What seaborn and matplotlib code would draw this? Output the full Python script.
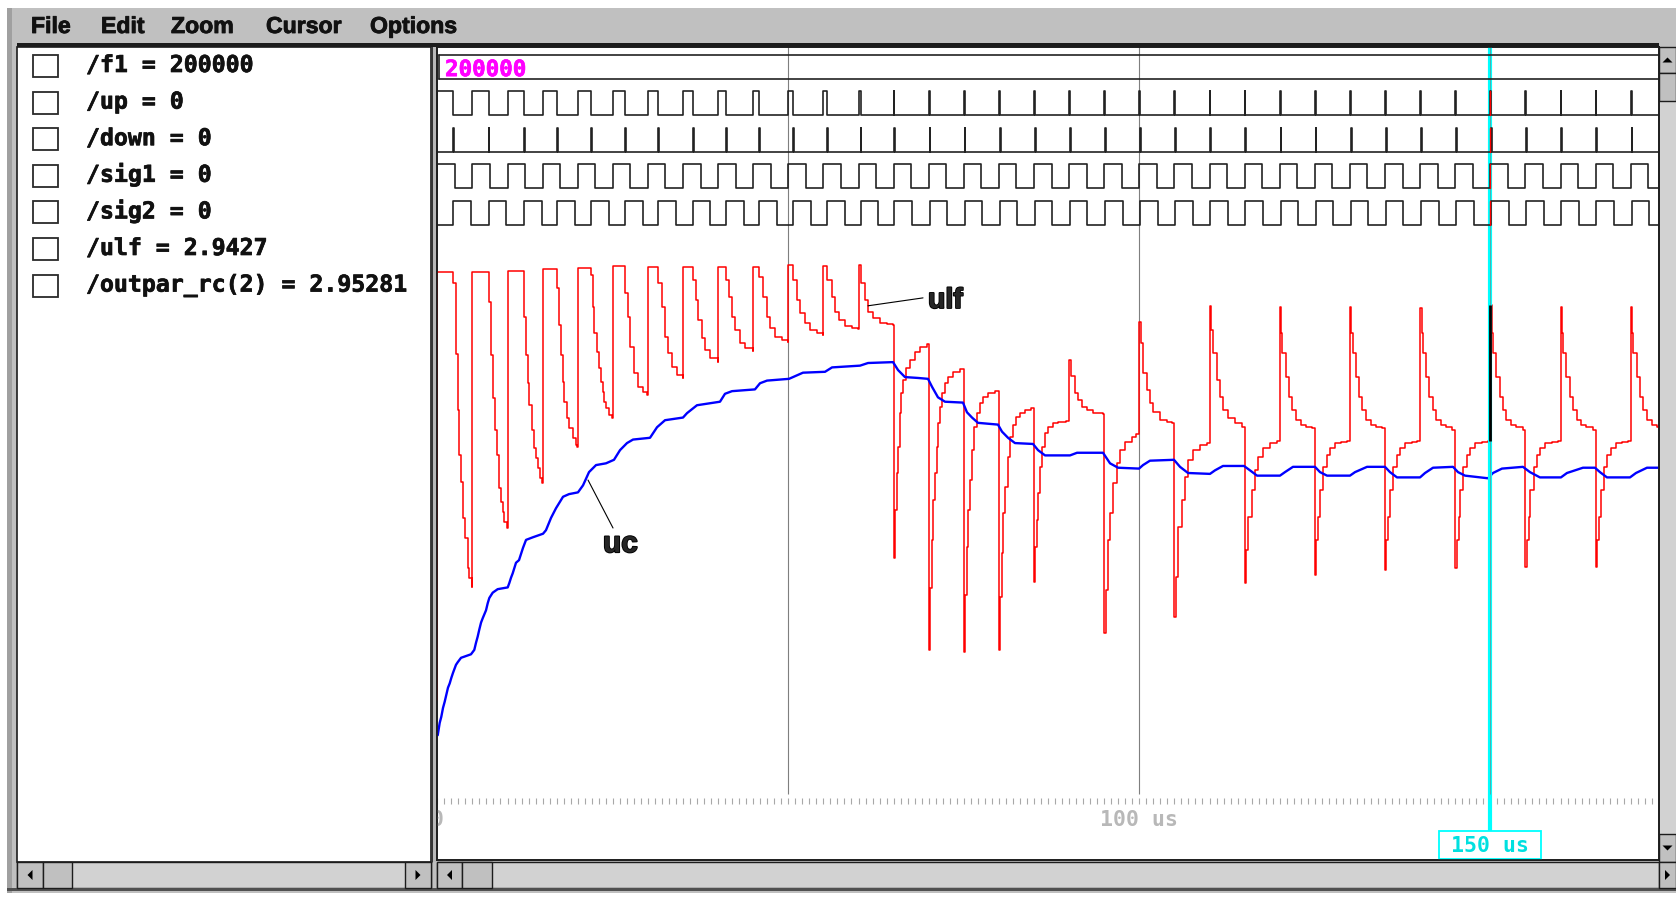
import numpy as np
import matplotlib
matplotlib.use("Agg")
import matplotlib.pyplot as plt
import matplotlib.patheffects as pe
import seaborn as sns
from matplotlib.patches import Rectangle, Polygon

# ---- texts ----
menu_items = ['File', 'Edit', 'Zoom', 'Cursor', 'Options']
menu_x = [31, 101, 171, 266, 370]
signal_names = ['/f1', '/up', '/down', '/sig1', '/sig2', '/ulf', '/outpar_rc(2)']
signal_values = ['200000', '0', '0', '0', '0', '2.9427', '2.95281']
f1_value = '200000'

# ---- time base (us) ----
period_us = 5.0
n_cycles = 35
t_end = 174.03
half_period_us = 2.5
spike_us = 0.12
# width of the /up pulse in each cycle (also the lag of /sig2 behind /sig1)
up_width_us = [2.28, 2.30, 2.36, 2.10, 1.90, 1.80, 1.50, 1.38, 1.13, 0.86, 0.71, 0.56, 0.30,
               0.12, 0.12, 0.12, 0.12, 0.12, 0.12, 0.12, 0.12, 0.12, 0.12, 0.12, 0.12,
               0.12, 0.12, 0.12, 0.12, 0.12, 0.12, 0.12, 0.12, 0.12, 0.12]
grid_us = [50, 100, 150]
cursor_us = 150.0
ruler_label_us = [0, 100]
ruler_label_txt = ['0', '100 us']

# ---- /ulf (red), one cycle per line ----
ulf_pull_t = [0.0, 0.0, 2.28, 2.66, 2.91, 3.13, 3.38, 3.62, 3.99, 4.33, 4.56, 4.94,
              5.0, 7.30, 7.65, 7.98, 8.26, 8.50, 8.75, 9.07, 9.32, 9.54, 9.93,
              10.0, 12.36, 12.64, 12.88, 13.11, 13.49, 13.82, 14.06, 14.30, 14.63, 14.91,
              15.0, 17.10, 17.29, 17.62, 17.86, 18.09, 18.43, 18.80, 19.29, 19.76, 19.93,
              20.0, 21.90, 22.14, 22.36, 22.71, 23.08, 23.32, 23.56, 23.79, 24.03, 24.50, 24.93,
              25.0, 26.80, 27.10, 27.50, 28.00, 28.60, 29.30, 29.93,
              30.0, 31.50, 31.97, 32.44, 32.91, 33.39, 34.10, 34.93,
              35.0, 36.38, 36.85, 37.18, 37.66, 38.13, 38.85, 39.93,
              40.0, 41.13, 41.60, 41.94, 42.41, 43.12, 43.83, 44.93,
              45.0, 45.86, 46.44, 46.92, 47.39, 48.11, 49.06, 49.93,
              50.0, 50.71, 51.28, 51.67, 52.38, 53.09, 54.05, 54.93,
              55.0, 55.56, 56.18, 56.65, 57.26, 58.08, 59.03, 59.93,
              60.0, 60.30, 60.93, 61.40, 62.11, 63.06, 64.02, 64.93]
ulf_pull_v = [0.42, 5.28, 5.16, 4.35, 3.72, 3.20, 2.90, 2.49, 2.26, 1.92, 1.81, 1.70,
              5.28, 4.94, 4.34, 3.85, 3.49, 3.20, 2.83, 2.67, 2.56, 2.44, 2.38,
              5.30, 4.77, 4.34, 4.02, 3.77, 3.49, 3.28, 3.17, 3.06, 2.94, 2.89,
              5.32, 5.10, 4.68, 4.34, 4.03, 3.81, 3.63, 3.51, 3.40, 3.32, 3.30,
              5.33, 5.25, 4.89, 4.59, 4.38, 4.19, 4.03, 3.92, 3.81, 3.74, 3.66, 3.63,
              5.35, 5.05, 4.77, 4.43, 4.14, 3.98, 3.92, 3.89,
              5.34, 5.16, 4.89, 4.55, 4.36, 4.20, 4.11, 4.08,
              5.34, 5.19, 4.97, 4.74, 4.53, 4.40, 4.31, 4.26,
              5.34, 5.19, 5.00, 4.77, 4.63, 4.48, 4.42, 4.39,
              5.34, 5.23, 5.00, 4.77, 4.65, 4.55, 4.51, 4.49,
              5.36, 5.19, 4.97, 4.82, 4.70, 4.63, 4.59, 4.57,
              5.35, 5.19, 5.00, 4.83, 4.74, 4.67, 4.65, 4.64,
              5.36, 5.16, 4.97, 4.83, 4.76, 4.70, 4.69, 4.68]

ulf_lock_t = [65.0, 65.17, 65.44, 65.63, 65.87, 66.11, 66.35, 66.82, 67.29, 68.00, 68.71, 69.72,
              70.0, 70.20, 70.43, 70.66, 70.90, 71.14, 71.37, 71.61, 71.85, 72.32, 72.79, 73.50, 74.46,
              75.0, 75.20, 75.41, 75.64, 75.88, 76.21, 76.50, 76.84, 77.31, 77.78, 78.49, 79.44,
              80.0, 80.20, 80.40, 80.63, 80.87, 81.25, 81.58, 81.97, 82.44, 83.00, 83.72, 84.60,
              85.0, 85.20, 85.38, 85.61, 85.85, 86.18, 86.57, 87.04, 87.75, 88.46, 89.50,
              90.0, 90.25, 90.84, 91.31, 91.80, 92.51, 93.45, 94.79,
              95.0, 95.20, 95.57, 95.81, 96.28, 96.77, 97.24, 97.95, 98.90, 99.60,
              100.0, 100.20, 100.57, 101.05, 101.52, 101.99, 102.95, 103.90, 104.60,
              105.0, 105.20, 105.56, 106.04, 106.51, 106.98, 107.69, 108.65, 109.60,
              110.0, 110.20, 110.54, 111.03, 111.50, 111.97, 112.68, 113.63, 114.60,
              115.0, 115.20, 115.53, 116.01, 116.48, 116.95, 117.66, 118.62, 119.60,
              120.0, 120.20, 120.37, 120.85, 121.32, 121.79, 122.28, 122.99, 123.70, 124.60,
              125.0, 125.20, 125.47, 125.71, 126.18, 126.67, 127.14, 127.85, 128.80, 129.60,
              130.0, 130.20, 130.37, 130.85, 131.32, 131.79, 132.28, 132.99, 133.70, 134.60,
              135.0, 135.20, 135.47, 135.71, 136.18, 136.67, 137.14, 137.85, 138.80, 139.60,
              140.0, 140.20, 140.37, 140.85, 141.32, 141.79, 142.28, 142.99, 143.70, 144.60,
              145.0, 145.20, 145.47, 145.71, 146.18, 146.67, 147.14, 147.85, 148.80, 149.60,
              150.0, 150.20, 150.37, 150.85, 151.32, 151.79, 152.28, 152.99, 153.70, 154.60,
              155.0, 155.20, 155.47, 155.71, 156.18, 156.67, 157.14, 157.85, 158.80, 159.60,
              160.0, 160.20, 160.37, 160.85, 161.32, 161.79, 162.28, 162.99, 163.70, 164.60,
              165.0, 165.20, 165.47, 165.71, 166.18, 166.67, 167.14, 167.85, 168.80, 169.60,
              170.0, 170.20, 170.37, 170.85, 171.32, 171.79, 172.28, 172.99, 173.70, 174.03]
ulf_lock_v = [2.03, 2.58, 3.00, 3.30, 3.68, 3.91, 4.06, 4.19, 4.28, 4.38, 4.43, 4.47,
              0.99, 1.69, 2.24, 2.69, 3.00, 3.30, 3.57, 3.75, 3.91, 4.02, 4.09, 4.15, 4.18,
              0.97, 1.61, 2.16, 2.58, 2.92, 3.26, 3.52, 3.68, 3.80, 3.86, 3.91, 3.93,
              0.99, 1.59, 2.09, 2.55, 2.84, 3.18, 3.41, 3.55, 3.64, 3.68, 3.72, 3.74,
              1.76, 2.16, 2.47, 2.77, 3.07, 3.30, 3.45, 3.52, 3.57, 3.58, 3.59,
              4.28, 4.10, 3.91, 3.83, 3.75, 3.72, 3.68, 3.67,
              1.18, 1.67, 2.24, 2.55, 2.89, 3.11, 3.26, 3.35, 3.41, 3.44,
              4.72, 4.48, 4.14, 3.94, 3.80, 3.69, 3.60, 3.58, 3.57,
              1.36, 1.82, 2.39, 2.69, 2.95, 3.15, 3.26, 3.32, 3.34,
              4.90, 4.63, 4.36, 4.06, 3.86, 3.72, 3.63, 3.57, 3.52,
              1.75, 2.13, 2.50, 2.81, 3.03, 3.18, 3.28, 3.34, 3.36,
              4.89, 4.59, 4.36, 4.09, 3.86, 3.72, 3.60, 3.55, 3.52, 3.51,
              1.84, 2.24, 2.50, 2.81, 3.07, 3.20, 3.28, 3.34, 3.35, 3.36,
              4.89, 4.59, 4.36, 4.09, 3.86, 3.72, 3.60, 3.55, 3.52, 3.51,
              1.90, 2.24, 2.50, 2.81, 3.07, 3.20, 3.28, 3.34, 3.35, 3.36,
              4.88, 4.59, 4.36, 4.09, 3.86, 3.72, 3.60, 3.55, 3.52, 3.49,
              1.92, 2.24, 2.50, 2.81, 3.07, 3.20, 3.28, 3.34, 3.35, 3.36,
              4.91, 4.59, 4.36, 4.09, 3.86, 3.72, 3.60, 3.55, 3.52, 3.49,
              1.93, 2.24, 2.50, 2.81, 3.07, 3.20, 3.28, 3.34, 3.35, 3.36,
              4.89, 4.59, 4.36, 4.09, 3.86, 3.72, 3.60, 3.55, 3.52, 3.49,
              1.93, 2.24, 2.50, 2.81, 3.07, 3.20, 3.28, 3.34, 3.35, 3.36,
              4.89, 4.59, 4.36, 4.09, 3.86, 3.72, 3.60, 3.55, 3.52, 3.52]

# ---- /outpar_rc(2) = uc (blue) ----
uc_t = [0.06, 0.34, 0.57, 0.81, 1.05, 1.28, 1.52, 1.77, 1.99, 2.24, 2.48, 2.66, 2.91, 3.38, 4.09, 4.80,
        5.27, 5.51, 5.75, 5.98, 6.23, 6.47, 6.94, 7.18, 7.41, 7.89, 8.60, 9.32,
        10.03, 10.26, 10.50, 10.74, 10.97, 11.21, 11.64, 12.21, 12.64, 13.63,
        15.06, 15.48, 16.20, 16.91, 17.91, 18.76,
        20.04, 20.76, 21.61, 22.61, 24.03,
        25.17, 26.03, 27.02, 27.88,
        30.30, 31.30, 32.44,
        35.00, 35.57, 36.99,
        40.27, 40.98, 41.98,
        45.25, 45.97, 46.97,
        50.10, 51.24, 52.09,
        55.23, 56.23,
        60.22, 61.36, 64.92,
        65.63, 66.62, 68.48, 69.90,
        70.47, 71.32, 72.32, 74.88,
        75.45, 76.17, 77.02, 79.87,
        80.44, 81.30, 82.29, 84.86,
        85.57, 86.57, 90.13,
        91.13, 94.83,
        95.83, 96.97, 99.96,
        100.53, 101.52, 104.94,
        105.80, 106.94, 110.07,
        110.78, 111.92, 114.91,
        115.77, 116.77, 120.04,
        120.75, 121.89, 125.03,
        125.74, 126.74, 130.01,
        130.73, 132.44, 135.00,
        135.71, 136.71, 139.99,
        140.70, 141.84, 144.69,
        145.40, 146.40, 149.67,
        150.38, 151.66, 154.65,
        155.65, 157.07, 160.06,
        160.92, 163.20, 164.91,
        165.62, 166.62, 169.90,
        170.75, 172.32, 173.88]
uc_v = [0.02, 0.16, 0.23, 0.33, 0.40, 0.48, 0.56, 0.61, 0.67, 0.73, 0.78, 0.82, 0.85, 0.90, 0.92, 0.94,
        0.99, 1.07, 1.14, 1.22, 1.30, 1.35, 1.44, 1.52, 1.58, 1.64, 1.68, 1.69,
        1.70, 1.75, 1.81, 1.86, 1.92, 1.98, 2.01, 2.15, 2.24, 2.27,
        2.31, 2.35, 2.49, 2.60, 2.73, 2.76,
        2.78, 2.86, 3.01, 3.09, 3.11,
        3.15, 3.26, 3.34, 3.38,
        3.40, 3.52, 3.60,
        3.63, 3.68, 3.77,
        3.81, 3.90, 3.93,
        3.95, 4.02, 4.05,
        4.07, 4.11, 4.14,
        4.15, 4.20,
        4.22, 4.25, 4.26,
        4.17, 4.09, 4.08, 4.07,
        3.98, 3.86, 3.81, 3.80,
        3.69, 3.63, 3.57, 3.55,
        3.47, 3.40, 3.34, 3.33,
        3.26, 3.20, 3.20,
        3.23, 3.23,
        3.11, 3.06, 3.05,
        3.09, 3.14, 3.15,
        3.07, 3.00, 2.99,
        3.03, 3.08, 3.08,
        3.03, 2.97, 2.97,
        3.01, 3.07, 3.07,
        3.01, 2.97, 2.97,
        3.01, 3.07, 3.07,
        3.01, 2.95, 2.95,
        3.00, 3.06, 3.07,
        3.01, 2.97, 2.94,
        3.00, 3.05, 3.07,
        3.01, 2.95, 2.95,
        3.00, 3.06, 3.06,
        3.01, 2.95, 2.95,
        3.00, 3.06, 3.06]

ulf_t = ulf_pull_t + ulf_lock_t
ulf_v = ulf_pull_v + ulf_lock_v

# ---- styling ----
sns.set_style('white')
plt.rcParams['font.family'] = ['DejaVu Sans']
MONO = dict(family='DejaVu Sans Mono', weight='bold')
FACE = '#c0c0c0'
TRACK = '#d2d2d2'
DARK = '#1c1c1c'
W, H = 1676, 900


def heavy(w, c='#111111'):
    return [pe.withStroke(linewidth=w, foreground=c)]


fig = plt.figure(figsize=(W / 100, H / 100), dpi=100)
fig.patch.set_facecolor('white')

# window chrome in screen pixels
ui = fig.add_axes([0, 0, 1, 1])
ui.set_xlim(0, W)
ui.set_ylim(H, 0)
ui.axis('off')


def box(x0, y0, x1, y1, fc, ec='none', lw=0.0, z=1):
    ui.add_patch(Rectangle((x0, y0), x1 - x0, y1 - y0, facecolor=fc,
                           edgecolor=ec, linewidth=lw, zorder=z))


def arrow_button(x0, y0, x1, y1, d):
    box(x0, y0, x1, y1, FACE, ec=DARK, lw=1.0, z=3)
    cx, cy = (x0 + x1) / 2, (y0 + y1) / 2
    s = 5
    pts = {'up': [(cx - s, cy + s / 2), (cx + s, cy + s / 2), (cx, cy - s / 2)],
           'down': [(cx - s, cy - s / 2), (cx + s, cy - s / 2), (cx, cy + s / 2)],
           'left': [(cx + s / 2, cy - s), (cx + s / 2, cy + s), (cx - s / 2, cy)],
           'right': [(cx - s / 2, cy - s), (cx - s / 2, cy + s), (cx + s / 2, cy)]}[d]
    ui.add_patch(Polygon(pts, closed=True, facecolor='black', edgecolor='none', zorder=4))


box(7, 8, W, 893, FACE)
box(7, 8, 12, 893, '#a0a0a0')
for label, x in zip(menu_items, menu_x):
    ui.text(x, 33, label, fontsize=16.6, family='Liberation Sans', weight='bold',
            va='baseline', ha='left', color='#111111', zorder=3, path_effects=heavy(0.6))
box(17, 43, 1659, 47, DARK, z=2)

# left panel with the signal list
box(17, 47, 431, 862, 'white', ec=DARK, lw=1.2, z=1)
box(431, 47, 437, 862, '#b8b8b8', z=1)
ui.plot([431.5, 431.5], [45, 862], color=DARK, lw=1.2, zorder=2)
row_base0, row_pitch = 72.0, 36.6
for i, (name, val) in enumerate(zip(signal_names, signal_values)):
    yb = row_base0 + i * row_pitch
    ui.add_patch(Rectangle((33, yb - 17), 25, 22, fill=False, edgecolor='#2a2a2a',
                           linewidth=1.3, zorder=3))
    ui.text(86, yb, f'{name} = {val}', fontsize=16.7, va='baseline', ha='left',
            color='#111111', zorder=3, path_effects=heavy(0.5), **MONO)

# scrollbars
box(1659, 47, W, 862, TRACK, z=1)
arrow_button(1659, 47, W, 73, 'up')
box(1659, 73, W, 101, FACE, ec=DARK, lw=1.0, z=3)
arrow_button(1659, 834, W, 862, 'down')
box(17, 862, 431, 888, TRACK, ec=DARK, lw=1.0, z=1)
arrow_button(17, 862, 43, 888, 'left')
box(43, 862, 72, 888, FACE, ec=DARK, lw=1.0, z=3)
arrow_button(405, 862, 431, 888, 'right')
box(437, 862, 1659, 888, TRACK, ec=DARK, lw=1.0, z=1)
arrow_button(437, 862, 462, 888, 'left')
box(462, 862, 492, 888, FACE, ec=DARK, lw=1.0, z=3)
arrow_button(1659, 862, W, 888, 'right')
box(7, 888, W, 891, '#505050', z=2)

# ---- wave panel ----
L, R, T, B = 437, 1659, 47, 860
ax = fig.add_axes([L / W, 1 - B / H, (R - L) / W, (B - T) / H])
ax.set_facecolor('white')
axd = ax.twinx()
axd.patch.set_alpha(0)
for a in (ax, axd):
    a.set_xticks([])
    a.set_yticks([])
    for s in a.spines.values():
        s.set_color(DARK)
        s.set_linewidth(1.2)


def fy(py):
    return (B - py) / (B - T)


xt = ax.get_xaxis_transform()

# analog traces (volts)
ax.vlines(grid_us, fy(794), 1.0, transform=xt, color='#7f7f7f', lw=0.8, zorder=1)
sns.lineplot(x=ulf_t, y=ulf_v, ax=ax, color='#ff0000', lw=1.1, estimator=None,
             sort=False, errorbar=None, drawstyle='steps-post', zorder=3)
sns.lineplot(x=uc_t, y=uc_v, ax=ax, color='#0000ff', lw=1.7, estimator=None,
             sort=False, errorbar=None, zorder=4)

# ruler
ax.vlines(np.arange(0, 175), fy(804), fy(798), transform=xt, color='#a8a8a8', lw=0.8)
for t, txt in zip(ruler_label_us, ruler_label_txt):
    ax.text(t, fy(826), txt, transform=xt, ha='center', va='baseline', color='#b8b8b8',
            fontsize=15.5, clip_on=True, **MONO)

# cursor
ax.vlines(cursor_us, fy(831), 1.0, transform=xt, color='#00ffff', lw=3.0, zorder=6)
ax.vlines(cursor_us, fy(794), 1.0, transform=xt, color='#5f9f9f', lw=0.6, zorder=6)
k = ulf_t.index(cursor_us)
ax.vlines(cursor_us, ulf_v[k - 1], ulf_v[k], color='black', lw=2.0, zorder=7)
ax.add_patch(Rectangle((cursor_us - 7.26, fy(859)), 14.52, fy(831) - fy(859), transform=xt,
                       facecolor='white', edgecolor='#00ffff', lw=1.3, zorder=6))
ax.text(cursor_us, fy(852), f'{cursor_us:.0f} us', transform=xt, ha='center', va='baseline',
        color='#00e0e0', fontsize=15.5, zorder=7, **MONO)

# annotations
ax.plot([61.35, 69.19], [4.90, 4.99], color='black', lw=0.8, zorder=5)
ax.text(69.9, 4.875, 'ulf', fontsize=20.5, family='Liberation Sans', weight='bold',
        va='baseline', ha='left', zorder=5, path_effects=heavy(1.3, 'black'))
ax.plot([21.47, 25.03], [2.92, 2.375], color='black', lw=0.8, zorder=5)
ax.text(23.6, 2.10, 'uc', fontsize=21.5, family='Liberation Sans', weight='bold',
        va='baseline', ha='left', zorder=5, path_effects=heavy(1.3, 'black'))

ax.set_xlim(-0.043, t_end)
ax.set_ylim((737 - B) / 88, (737 - T) / 88)
ax.set_xlabel('')
ax.set_ylabel('')

# ---- digital rows (row units, 0 = /f1) ----
AMP = 0.33
starts = [period_us * i for i in range(n_cycles)]
sig2_starts = [s + w for s, w in zip(starts, up_width_us)]


def pulse_trace(pstarts, widths, row):
    lo, hi = row + AMP, row - AMP
    xs, ys = [0.0], [lo]
    for s, w in zip(pstarts, widths):
        xs += [s, s, s + w, s + w]
        ys += [lo, hi, hi, lo]
    xs.append(t_end)
    ys.append(lo)
    return xs, ys


traces = [
    pulse_trace(starts, up_width_us, 1),
    pulse_trace(sig2_starts, [spike_us] * n_cycles, 2),
    pulse_trace(starts, [half_period_us] * n_cycles, 3),
    pulse_trace(sig2_starts, [half_period_us] * n_cycles, 4),
]
for xs, ys in traces:
    sns.lineplot(x=xs, y=ys, ax=axd, color='#222222', lw=1.2, estimator=None,
                 sort=False, errorbar=None)

# /f1 bus
axd.plot([0.28, t_end], [-AMP, -AMP], color='#222222', lw=1.2)
axd.plot([0.28, t_end], [AMP, AMP], color='#222222', lw=1.2)
axd.plot([0.28, 0.28], [-AMP, AMP], color='#222222', lw=1.2)
axd.text(1.1, 0.25, f1_value, color='#ff00ff', fontsize=16.2, va='baseline', ha='left',
         path_effects=heavy(0.5, '#ff00ff'), **MONO)

# edges under the cursor are drawn red
for row in range(1, 5):
    axd.plot([cursor_us, cursor_us], [row - AMP, row + AMP], color='#ff0000', lw=1.0, zorder=8)

axd.set_ylim((B - 67) / 36.4, (T - 67) / 36.4)
axd.set_xlim(-0.043, t_end)
axd.set_xlabel('')
axd.set_ylabel('')

fig.savefig('out.png', dpi=100)
